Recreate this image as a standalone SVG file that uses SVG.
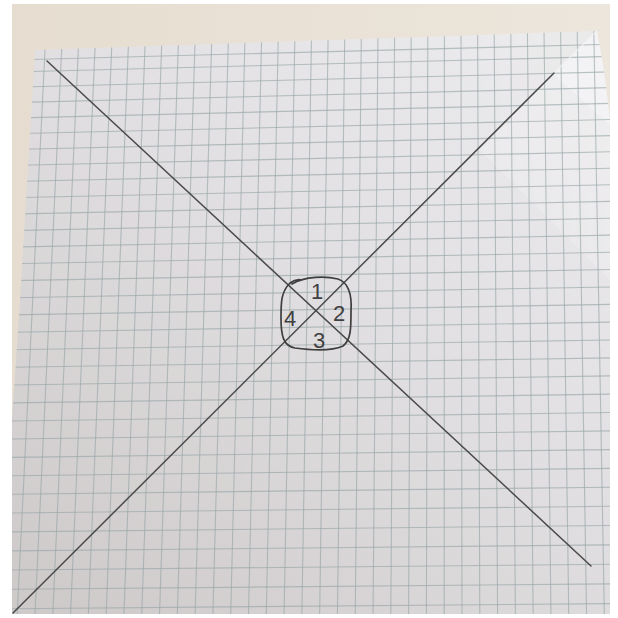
<svg xmlns="http://www.w3.org/2000/svg" width="618" height="618" viewBox="0 0 618 618">
<style>
.grid line{stroke:#98a6a8;stroke-width:1.1;opacity:0.65}
.pencil{stroke:#4a4a4a;stroke-width:1.5;fill:none;stroke-linecap:round}
.ring{stroke:#3e3e3e;stroke-width:1.7;fill:none;stroke-linecap:round;stroke-linejoin:round}
.num{font-family:"Liberation Sans","DejaVu Sans",sans-serif;font-size:22px;fill:#404040;text-anchor:middle}
</style>
<defs>
<linearGradient id="paperG" gradientUnits="userSpaceOnUse" x1="520" y1="40" x2="60" y2="610">
<stop offset="0" stop-color="#ebeaec"/>
<stop offset="0.45" stop-color="#e0dee0"/>
<stop offset="1" stop-color="#cfcaca"/>
</linearGradient>
<linearGradient id="bgG" x1="0" y1="0" x2="1" y2="0">
<stop offset="0" stop-color="#e6ddd0"/>
<stop offset="1" stop-color="#ede6dc"/>
</linearGradient>
<clipPath id="paperClip">
<polygon points="35,50 597,31 604,70 610,120 610,614 12,614 12,420 20,300"/>
</clipPath>
</defs>
<rect x="0" y="0" width="618" height="618" fill="#ffffff"/>
<rect id="background" x="12" y="4" width="598" height="610" fill="url(#bgG)"/>
<g id="paper" clip-path="url(#paperClip)">
<rect x="0" y="0" width="618" height="618" fill="url(#paperG)"/>
<polygon points="597,31 553,74 480,150 610,280 610,40" fill="#ffffff" opacity="0.18"/>
<polygon points="597,31 553,74 610,125 610,40" fill="#ffffff" opacity="0.3"/>
<g class="grid">
<line x1="0" y1="60.3" x2="618" y2="44"/>
<line x1="0" y1="72.4" x2="618" y2="56.2"/>
<line x1="0" y1="87.6" x2="618" y2="71.7"/>
<line x1="0" y1="102.9" x2="618" y2="87.4"/>
<line x1="0" y1="118.4" x2="618" y2="103.2"/>
<line x1="0" y1="134.1" x2="618" y2="119.3"/>
<line x1="0" y1="149.8" x2="618" y2="135.4"/>
<line x1="0" y1="165.7" x2="618" y2="151.6"/>
<line x1="0" y1="181.8" x2="618" y2="168"/>
<line x1="0" y1="198" x2="618" y2="184.6"/>
<line x1="0" y1="214.3" x2="618" y2="201.2"/>
<line x1="0" y1="230.8" x2="618" y2="218.1"/>
<line x1="0" y1="247.3" x2="618" y2="235"/>
<line x1="0" y1="264" x2="618" y2="252.1"/>
<line x1="0" y1="280.9" x2="618" y2="269.3"/>
<line x1="0" y1="298" x2="618" y2="286.8"/>
<line x1="0" y1="315.1" x2="618" y2="304.2"/>
<line x1="0" y1="332.4" x2="618" y2="322"/>
<line x1="0" y1="349.9" x2="618" y2="339.8"/>
<line x1="0" y1="367.5" x2="618" y2="357.7"/>
<line x1="0" y1="385.2" x2="618" y2="375.8"/>
<line x1="0" y1="403.1" x2="618" y2="394"/>
<line x1="0" y1="421.1" x2="618" y2="412.4"/>
<line x1="0" y1="439.2" x2="618" y2="430.8"/>
<line x1="0" y1="457.5" x2="618" y2="449.5"/>
<line x1="0" y1="475.9" x2="618" y2="468.3"/>
<line x1="0" y1="494.4" x2="618" y2="487.1"/>
<line x1="0" y1="513.1" x2="618" y2="506.2"/>
<line x1="0" y1="532" x2="618" y2="525.4"/>
<line x1="0" y1="551" x2="618" y2="544.8"/>
<line x1="0" y1="570.1" x2="618" y2="564.2"/>
<line x1="0" y1="589.4" x2="618" y2="583.8"/>
<line x1="0" y1="608.8" x2="618" y2="603.6"/>
<line x1="29.4" y1="30" x2="-0.8" y2="618"/>
<line x1="46" y1="30" x2="17" y2="618"/>
<line x1="62.6" y1="30" x2="34.8" y2="618"/>
<line x1="79.2" y1="30" x2="52.6" y2="618"/>
<line x1="95.8" y1="30" x2="70.4" y2="618"/>
<line x1="112.4" y1="30" x2="88.2" y2="618"/>
<line x1="129" y1="30" x2="106" y2="618"/>
<line x1="145.6" y1="30" x2="123.8" y2="618"/>
<line x1="162.2" y1="30" x2="141.6" y2="618"/>
<line x1="178.8" y1="30" x2="159.4" y2="618"/>
<line x1="195.4" y1="30" x2="177.2" y2="618"/>
<line x1="212" y1="30" x2="195" y2="618"/>
<line x1="228.6" y1="30" x2="212.8" y2="618"/>
<line x1="245.2" y1="30" x2="230.6" y2="618"/>
<line x1="261.8" y1="30" x2="248.4" y2="618"/>
<line x1="278.4" y1="30" x2="266.2" y2="618"/>
<line x1="295" y1="30" x2="284" y2="618"/>
<line x1="311.6" y1="30" x2="301.8" y2="618"/>
<line x1="328.2" y1="30" x2="319.6" y2="618"/>
<line x1="344.8" y1="30" x2="337.4" y2="618"/>
<line x1="361.4" y1="30" x2="355.2" y2="618"/>
<line x1="378" y1="30" x2="373" y2="618"/>
<line x1="394.6" y1="30" x2="390.8" y2="618"/>
<line x1="411.2" y1="30" x2="408.6" y2="618"/>
<line x1="427.8" y1="30" x2="426.4" y2="618"/>
<line x1="444.4" y1="30" x2="444.2" y2="618"/>
<line x1="461" y1="30" x2="462" y2="618"/>
<line x1="477.6" y1="30" x2="479.8" y2="618"/>
<line x1="494.2" y1="30" x2="497.6" y2="618"/>
<line x1="510.8" y1="30" x2="515.4" y2="618"/>
<line x1="527.4" y1="30" x2="533.2" y2="618"/>
<line x1="544" y1="30" x2="551" y2="618"/>
<line x1="560.6" y1="30" x2="568.8" y2="618"/>
<line x1="577.2" y1="30" x2="586.6" y2="618"/>
<line x1="593.8" y1="30" x2="604.4" y2="618"/>
<line x1="610.4" y1="30" x2="622.2" y2="618"/>
</g>
<line x1="597" y1="31" x2="553" y2="74" stroke="#f4f3f5" stroke-width="1.5" opacity="0.7"/>
</g>
<g id="connectors">
<line class="pencil" x1="47" y1="61" x2="591" y2="566"/>
<line class="pencil" x1="554" y1="73" x2="13" y2="613"/>
</g>
<g id="center-node">
<path class="ring" d="M 292 284 C 305 276, 326 276, 338 279 C 350 283, 352 297, 351 312 C 351 328, 351 340, 343 346 C 332 351, 310 350, 295 348 C 283 346, 281 335, 281 318 C 281 302, 281 292, 290 283 C 294 280, 298 279, 302 280"/>
<text class="num" x="317" y="299">1</text>
<text class="num" x="339" y="321">2</text>
<text class="num" x="319" y="348">3</text>
<text class="num" x="290" y="326">4</text>
</g>
</svg>
